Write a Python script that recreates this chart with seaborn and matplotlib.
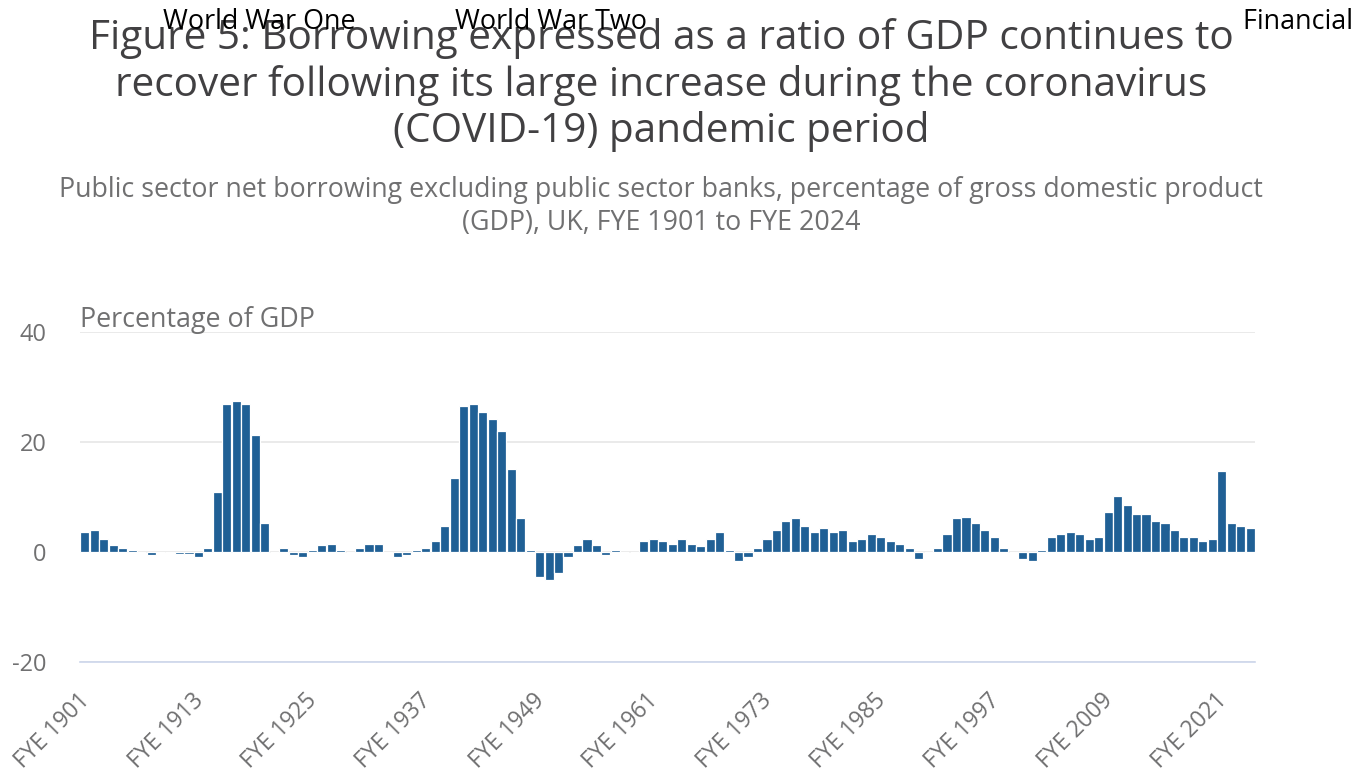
import matplotlib
matplotlib.use("Agg")
import matplotlib.pyplot as plt
from matplotlib.transforms import ScaledTranslation
import seaborn as sns
import pandas as pd

# ---- data -------------------------------------------------------------
years = list(range(1901, 2025))
borrowing_pct_gdp = [
    3.6, 4.0, 2.4, 1.2, 0.7, 0.4, 0.0, -0.5, 0.0, 0.0,        # 1901-1910
    -0.4, -0.4, -0.9, 0.7, 11.0, 27.0, 27.5, 27.0, 21.3, 5.3,  # 1911-1920
    0.0, 0.7, -0.5, -0.9, 0.4, 1.2, 1.5, 0.4, 0.0, 0.7,        # 1921-1930
    1.5, 1.5, 0.0, -0.9, -0.5, 0.4, 0.7, 2.0, 4.8, 13.5,       # 1931-1940
    26.6, 27.0, 25.4, 24.2, 22.1, 15.1, 6.1, 0.3, -4.6, -5.1,  # 1941-1950
    -3.8, -0.9, 1.2, 2.4, 1.2, -0.5, 0.3, 0.0, 0.0, 2.0,       # 1951-1960
    2.3, 2.0, 1.5, 2.3, 1.5, 1.1, 2.3, 3.6, 0.3, -1.7,         # 1961-1970
    -0.9, 0.7, 2.3, 4.0, 5.6, 6.1, 4.8, 3.6, 4.4, 3.6,         # 1971-1980
    4.0, 2.0, 2.3, 3.2, 2.8, 2.0, 1.5, 0.7, -1.3, 0.0,         # 1981-1990
    0.7, 3.2, 6.1, 6.4, 5.2, 4.0, 2.75, 0.7, 0.0, -1.3,        # 1991-2000
    -1.7, 0.3, 2.75, 3.2, 3.6, 3.2, 2.4, 2.75, 7.3, 10.2,      # 2001-2010
    8.5, 6.9, 6.9, 5.6, 5.2, 4.0, 2.75, 2.75, 2.0, 2.4,        # 2011-2020
    14.7, 5.2, 4.8, 4.4,                                       # 2021-2024
]
tick_years = list(range(1901, 2025, 12))
tick_labels = [f"FYE {y}" for y in tick_years]
y_ticks = [-20, 0, 20, 40]

title_text = ("Figure 5: Borrowing expressed as a ratio of GDP continues to\n"
              "recover following its large increase during the coronavirus\n"
              "(COVID-19) pandemic period")
subtitle_text = ("Public sector net borrowing excluding public sector banks, percentage of gross domestic product\n"
                 "(GDP), UK, FYE 1901 to FYE 2024")
annotations = ["World War One", "World War Two", "Financial crisis"]

assert len(years) == len(borrowing_pct_gdp)

df = pd.DataFrame({"year": [str(y) for y in years], "value": borrowing_pct_gdp})

# ---- style ------------------------------------------------------------
sns.set_style("white")
plt.rcParams["font.family"] = ["Open Sans", "DejaVu Sans"]

W, H = 1352, 774
fig = plt.figure(figsize=(W / 100, H / 100), dpi=100)
ax = fig.add_axes([80 / W, 1 - 661.7 / H, (1255 - 80) / W, (661.7 - 332.3) / H])

sns.barplot(data=df, x="year", y="value", color="#206095", saturation=1,
            width=0.96, edgecolor="white", linewidth=0.9, ax=ax, zorder=3)

ax.set_xlim(-0.5, len(years) - 0.5)
ax.set_ylim(-20, 40)
ax.set_yticks(y_ticks)
ax.set_yticklabels([str(v) for v in y_ticks])
ax.grid(axis="y", color="#e6e6e6", linewidth=1.2, zorder=0)
ax.set_axisbelow(True)

tick_pos = [years.index(y) for y in tick_years]
ax.set_xticks(tick_pos)
ax.set_xticklabels(tick_labels, rotation=45, ha="right", rotation_mode="anchor")

for s in ["top", "right", "left"]:
    ax.spines[s].set_visible(False)
ax.spines["bottom"].set_color("#ccd6eb")
ax.spines["bottom"].set_linewidth(1.2)
ax.spines["bottom"].set_zorder(4)

ax.tick_params(axis="x", length=14.4, width=1.2, color="#ccd6eb",
               labelsize=16.5, labelcolor="#707071", pad=6)
ax.tick_params(axis="y", length=0, labelsize=17, labelcolor="#707071", pad=24)
ax.set_xlabel("")
ax.set_ylabel("")

# nudge rotated x labels (after tick_params, which resets transforms)
shift = ScaledTranslation(-7 / 100, 1 / 100, fig.dpi_scale_trans)
for lab in ax.get_xticklabels():
    lab.set_transform(lab.get_transform() + shift)

# axis title
fig.text(80 / W, 1 - 327 / H, "Percentage of GDP", fontsize=19.4,
         color="#707071", ha="left", va="baseline")

# titles
fig.text(661 / W, 1 - 85 / H, title_text, fontsize=29.2, color="#414042",
         ha="center", va="center", linespacing=1.17)
fig.text(661 / W, 1 - 206.5 / H, subtitle_text, fontsize=19.3, color="#707071",
         ha="center", va="center", linespacing=1.28)

# event labels at the top
for lbl, x_px in zip(annotations, [163, 455, 1243]):
    fig.text(x_px / W, 1 - 29 / H, lbl, fontsize=19.4, color="black",
             ha="left", va="baseline")

fig.savefig("out.png", dpi=100)
